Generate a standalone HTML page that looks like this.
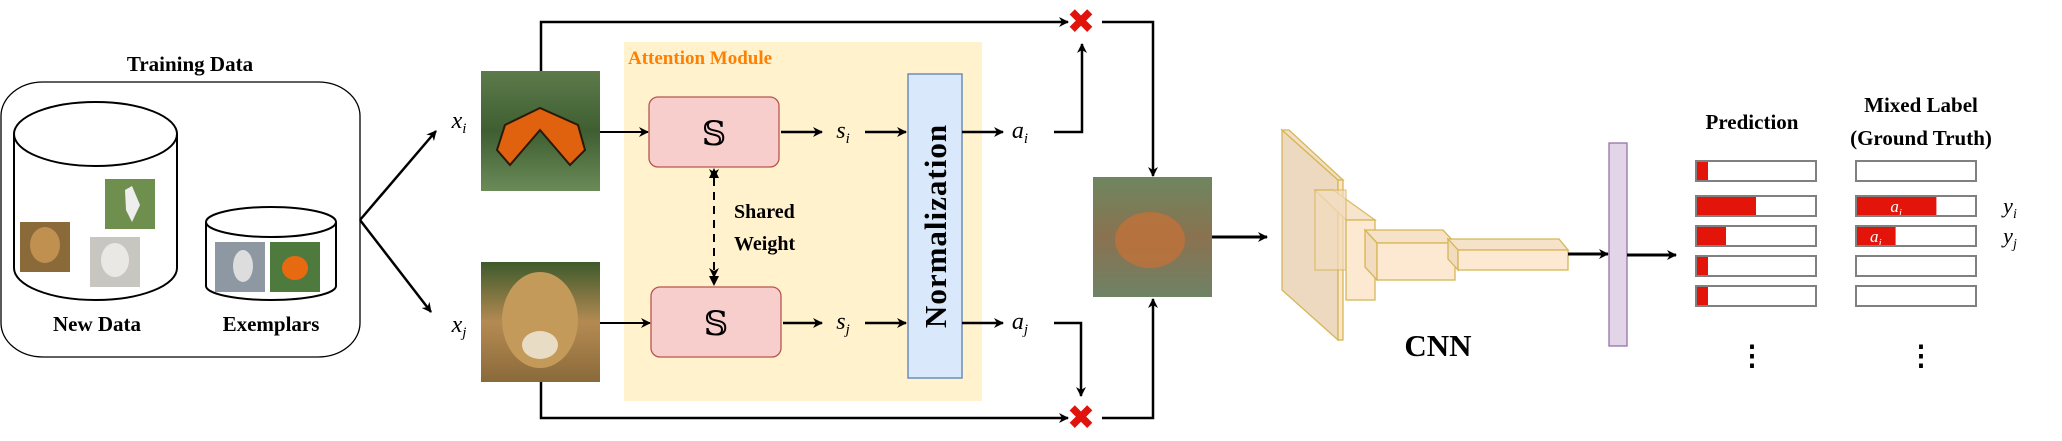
<!DOCTYPE html>
<html><head><meta charset="utf-8"><style>
html,body{margin:0;padding:0;background:#fff;}
svg{display:block;font-family:"Liberation Serif",serif;}
</style></head><body>
<svg width="2062" height="441" viewBox="0 0 2062 441" xmlns="http://www.w3.org/2000/svg">
<defs>
<marker id="ah" markerWidth="10" markerHeight="10" refX="9" refY="5" orient="auto" markerUnits="userSpaceOnUse"><path d="M0,0 L10,5 L0,10 L3,5 z" fill="#000"/></marker>
<linearGradient id="bfly" x1="0" y1="0" x2="0" y2="1"><stop offset="0" stop-color="#5d7a4a"/><stop offset="0.5" stop-color="#3f5f32"/><stop offset="1" stop-color="#6a8a58"/></linearGradient>
<linearGradient id="leo" x1="0" y1="0" x2="0" y2="1"><stop offset="0" stop-color="#3e5a2c"/><stop offset="0.5" stop-color="#b48a52"/><stop offset="1" stop-color="#8a6a3a"/></linearGradient>
<linearGradient id="mix" x1="0" y1="0" x2="0" y2="1"><stop offset="0" stop-color="#6e8660"/><stop offset="0.5" stop-color="#8a7250"/><stop offset="1" stop-color="#6f8266"/></linearGradient>
</defs>

<!-- Training data -->
<text x="190" y="71" text-anchor="middle" font-size="21" font-weight="bold">Training Data</text>
<rect x="1" y="82" width="359" height="275" rx="42" ry="34" fill="none" stroke="#000" stroke-width="1.3"/>
<g fill="none" stroke="#000" stroke-width="2">
<path d="M14,134 L14,268 A81.5,32 0 0 0 177,268 L177,134"/>
<ellipse cx="95.5" cy="134" rx="81.5" ry="32"/>
</g>
<rect x="105" y="179" width="50" height="50" fill="#6f8f4f"/>
<path d="M125,190 L132,186 L140,205 L132,222 L126,210 z" fill="#eee"/>
<rect x="20" y="222" width="50" height="50" fill="#8a6a38"/>
<ellipse cx="45" cy="245" rx="15" ry="18" fill="#c09050"/>
<rect x="90" y="237" width="50" height="50" fill="#c8c6c0"/>
<ellipse cx="115" cy="260" rx="14" ry="17" fill="#eae8e4"/>
<g fill="none" stroke="#000" stroke-width="2">
<path d="M206,222 L206,286 A65,14 0 0 0 336,286 L336,222"/>
<ellipse cx="271" cy="222" rx="65" ry="15"/>
</g>
<rect x="215" y="242" width="50" height="50" fill="#8d98a2"/>
<ellipse cx="243" cy="266" rx="10" ry="16" fill="#ddd"/>
<rect x="270" y="242" width="50" height="50" fill="#4f7a3e"/>
<ellipse cx="295" cy="268" rx="13" ry="12" fill="#e86a10"/>
<text x="97" y="331" text-anchor="middle" font-size="21" font-weight="bold">New Data</text>
<text x="271" y="331" text-anchor="middle" font-size="21" font-weight="bold">Exemplars</text>

<!-- split arrows -->
<line x1="360" y1="220" x2="436" y2="131" stroke="#000" stroke-width="2.5" marker-end="url(#ah)"/>
<line x1="360" y1="220" x2="431" y2="312" stroke="#000" stroke-width="2.5" marker-end="url(#ah)"/>
<text x="459" y="128" text-anchor="middle" font-size="24" font-style="italic">x<tspan font-size="15" dy="5">i</tspan></text>
<text x="459" y="332" text-anchor="middle" font-size="24" font-style="italic">x<tspan font-size="15" dy="5">j</tspan></text>

<!-- input images -->
<g>
<rect x="481" y="71" width="119" height="120" fill="url(#bfly)"/>
<path d="M540,108 L505,125 L497,150 L510,165 L540,130 L570,165 L585,150 L578,125 z" fill="#e0620e" stroke="#2a1a0a" stroke-width="2"/>
</g>
<g>
<rect x="481" y="262" width="119" height="120" fill="url(#leo)"/>
<ellipse cx="540" cy="320" rx="38" ry="48" fill="#c49a5a"/>
<ellipse cx="540" cy="345" rx="18" ry="14" fill="#e9dcc4"/>
</g>

<!-- bypass lines -->
<polyline points="541,71 541,22 1068,22" fill="none" stroke="#000" stroke-width="2.5" marker-end="url(#ah)"/>
<polyline points="541,382 541,418 1068,418" fill="none" stroke="#000" stroke-width="2.5" marker-end="url(#ah)"/>

<!-- attention module -->
<rect x="624" y="42" width="358" height="359" fill="#fff2cc"/>
<text x="628" y="64" font-size="19" font-weight="bold" fill="#ff8000">Attention Module</text>
<line x1="600" y1="132" x2="648" y2="132" stroke="#000" stroke-width="2" marker-end="url(#ah)"/>
<line x1="600" y1="323" x2="650" y2="323" stroke="#000" stroke-width="2" marker-end="url(#ah)"/>
<rect x="649" y="97" width="130" height="70" rx="9" fill="#f8cecc" stroke="#b85450" stroke-width="1.3"/>
<text x="714" y="145" text-anchor="middle" font-size="34" font-family="DejaVu Serif,serif">𝕊</text>
<rect x="651" y="287" width="130" height="70" rx="9" fill="#f8cecc" stroke="#b85450" stroke-width="1.3"/>
<text x="716" y="335" text-anchor="middle" font-size="34" font-family="DejaVu Serif,serif">𝕊</text>
<line x1="714" y1="178" x2="714" y2="277" stroke="#000" stroke-width="2" stroke-dasharray="8,6" marker-start="url(#ah)" marker-end="url(#ah)"/>
<path d="M714,168 l-5,10 l10,0 z" fill="#000"/>
<path d="M714,286 l-5,-10 l10,0 z" fill="#000"/>
<text x="734" y="218" font-size="20" font-weight="bold">Shared</text>
<text x="734" y="250" font-size="20" font-weight="bold">Weight</text>
<line x1="781" y1="132" x2="822" y2="132" stroke="#000" stroke-width="2.5" marker-end="url(#ah)"/>
<line x1="783" y1="323" x2="822" y2="323" stroke="#000" stroke-width="2.5" marker-end="url(#ah)"/>
<text x="843" y="138" text-anchor="middle" font-size="24" font-style="italic">s<tspan font-size="15" dy="5">i</tspan></text>
<text x="843" y="329" text-anchor="middle" font-size="24" font-style="italic">s<tspan font-size="15" dy="5">j</tspan></text>
<line x1="865" y1="132" x2="906" y2="132" stroke="#000" stroke-width="2.5" marker-end="url(#ah)"/>
<line x1="865" y1="323" x2="906" y2="323" stroke="#000" stroke-width="2.5" marker-end="url(#ah)"/>
<rect x="908" y="74" width="54" height="304" fill="#dae8fc" stroke="#6c8ebf" stroke-width="1.5"/>
<text transform="translate(946,226) rotate(-90)" text-anchor="middle" font-size="31" font-weight="bold" letter-spacing="1">Normalization</text>
<line x1="962" y1="132" x2="1003" y2="132" stroke="#000" stroke-width="2.5" marker-end="url(#ah)"/>
<line x1="962" y1="323" x2="1003" y2="323" stroke="#000" stroke-width="2.5" marker-end="url(#ah)"/>
<text x="1020" y="138" text-anchor="middle" font-size="24" font-style="italic">a<tspan font-size="15" dy="5">i</tspan></text>
<text x="1020" y="329" text-anchor="middle" font-size="24" font-style="italic">a<tspan font-size="15" dy="5">j</tspan></text>

<!-- weights to crosses -->
<polyline points="1054,132 1082,132 1082,44" fill="none" stroke="#000" stroke-width="2.5" marker-end="url(#ah)"/>
<polyline points="1054,323 1081,323 1081,396" fill="none" stroke="#000" stroke-width="2.5" marker-end="url(#ah)"/>
<text x="1081" y="33" text-anchor="middle" font-size="34" font-weight="bold" fill="#e0140c" font-family="DejaVu Sans,sans-serif">✖</text>
<text x="1081" y="429" text-anchor="middle" font-size="34" font-weight="bold" fill="#e0140c" font-family="DejaVu Sans,sans-serif">✖</text>
<polyline points="1102,22 1153,22 1153,176" fill="none" stroke="#000" stroke-width="2.5" marker-end="url(#ah)"/>
<polyline points="1102,418 1153,418 1153,299" fill="none" stroke="#000" stroke-width="2.5" marker-end="url(#ah)"/>

<!-- mixed image -->
<g>
<rect x="1093" y="177" width="119" height="120" fill="url(#mix)"/>
<ellipse cx="1150" cy="240" rx="35" ry="28" fill="#c0723a" opacity="0.8"/>
</g>
<line x1="1212" y1="237" x2="1267" y2="237" stroke="#000" stroke-width="3" marker-end="url(#ah)"/>

<!-- CNN -->
<g stroke="#d6b656" stroke-width="1.3">
<path d="M1282,130 L1338,180 L1338,340 L1282,290 z" fill="#edd9bf"/>
<path d="M1282,130 L1289,130 L1343,180 L1338,180 z" fill="#f3e0c4"/>
<rect x="1338" y="180" width="5" height="160" fill="#fbe6c8"/>
<path d="M1315,190 L1333,190 L1375,220 L1346,220 z" fill="#f6e2c8" opacity="0.9"/>
<rect x="1315" y="190" width="31" height="80" fill="#f2dcc0" opacity="0.7"/>
<rect x="1346" y="220" width="29" height="80" fill="#fde9d2"/>
<path d="M1365,230 L1443,230 L1455,243 L1377,243 z" fill="#f6e2c8"/>
<path d="M1365,230 L1377,243 L1377,280 L1365,267 z" fill="#f2dcc0"/>
<rect x="1377" y="243" width="78" height="37" fill="#fde9d2"/>
<path d="M1448,239 L1559,239 L1568,250 L1458,250 z" fill="#f6e2c8"/>
<path d="M1448,239 L1458,250 L1458,270 L1448,259 z" fill="#f2dcc0"/>
<rect x="1458" y="250" width="110" height="20" fill="#fde9d2"/>
</g>
<text x="1438" y="356" text-anchor="middle" font-size="31" font-weight="bold">CNN</text>
<line x1="1568" y1="254" x2="1608" y2="254" stroke="#000" stroke-width="3" marker-end="url(#ah)"/>
<rect x="1609" y="143" width="18" height="203" fill="#e1d5e7" stroke="#9673a6" stroke-width="1.3"/>
<line x1="1627" y1="255" x2="1676" y2="255" stroke="#000" stroke-width="3" marker-end="url(#ah)"/>

<text x="1752" y="129" text-anchor="middle" font-size="21" font-weight="bold">Prediction</text>
<text x="1921" y="112" text-anchor="middle" font-size="21" font-weight="bold">Mixed Label</text>
<text x="1921" y="145" text-anchor="middle" font-size="21" font-weight="bold">(Ground Truth)</text>
<g id="bars"></g>
<text x="2010" y="213" text-anchor="middle" font-size="22" font-style="italic">y<tspan font-size="14" dy="5">i</tspan></text>
<text x="2010" y="243" text-anchor="middle" font-size="22" font-style="italic">y<tspan font-size="14" dy="5">j</tspan></text>
<text x="1752" y="365" text-anchor="middle" font-size="28" font-weight="bold">⋮</text>
<text x="1921" y="365" text-anchor="middle" font-size="28" font-weight="bold">⋮</text>
</svg>
<script>
const predValues = [0.1, 0.5, 0.25, 0.1, 0.1];
const labelValues = [0, 0.67, 0.33, 0, 0];
const labelTexts = ["", "a_i", "a_j", "", ""];
const rowTops = [161, 196, 226, 256, 286];
const ns = "http://www.w3.org/2000/svg";
const g = document.getElementById('bars');
function bx(v){return v*120;}
function mk(tag, attrs){const e=document.createElementNS(ns,tag);for(const k in attrs)e.setAttribute(k,attrs[k]);g.appendChild(e);return e;}
rowTops.forEach((y,i)=>{
  const p = mk('rect',{x:1696,y:y,width:bx(predValues[i]),height:20,fill:'#e3140a'});
  
  
  const po = mk('rect',{x:1696,y:y,width:120,height:20,fill:'none',stroke:'#808080','stroke-width':2});
  
  
  if(labelValues[i]>0){
    const l = mk('rect',{x:1856,y:y,width:bx(labelValues[i]),height:20,fill:'#e3140a'});
    
    
    const t = mk('text',{x:1856+bx(labelValues[i])/2,y:y+16,'text-anchor':'middle','font-size':17,'font-style':'italic',fill:'#fff'});
    
    
    const parts = labelTexts[i].split('_');
    t.textContent = parts[0];
    const ts = document.createElementNS(ns,'tspan'); ts.setAttribute('font-size','11'); ts.setAttribute('dy','4'); ts.textContent = parts[1]; t.appendChild(ts);
  }
  const lo = mk('rect',{x:1856,y:y,width:120,height:20,fill:'none',stroke:'#808080','stroke-width':2});
  
  
});
</script>
</body></html>
